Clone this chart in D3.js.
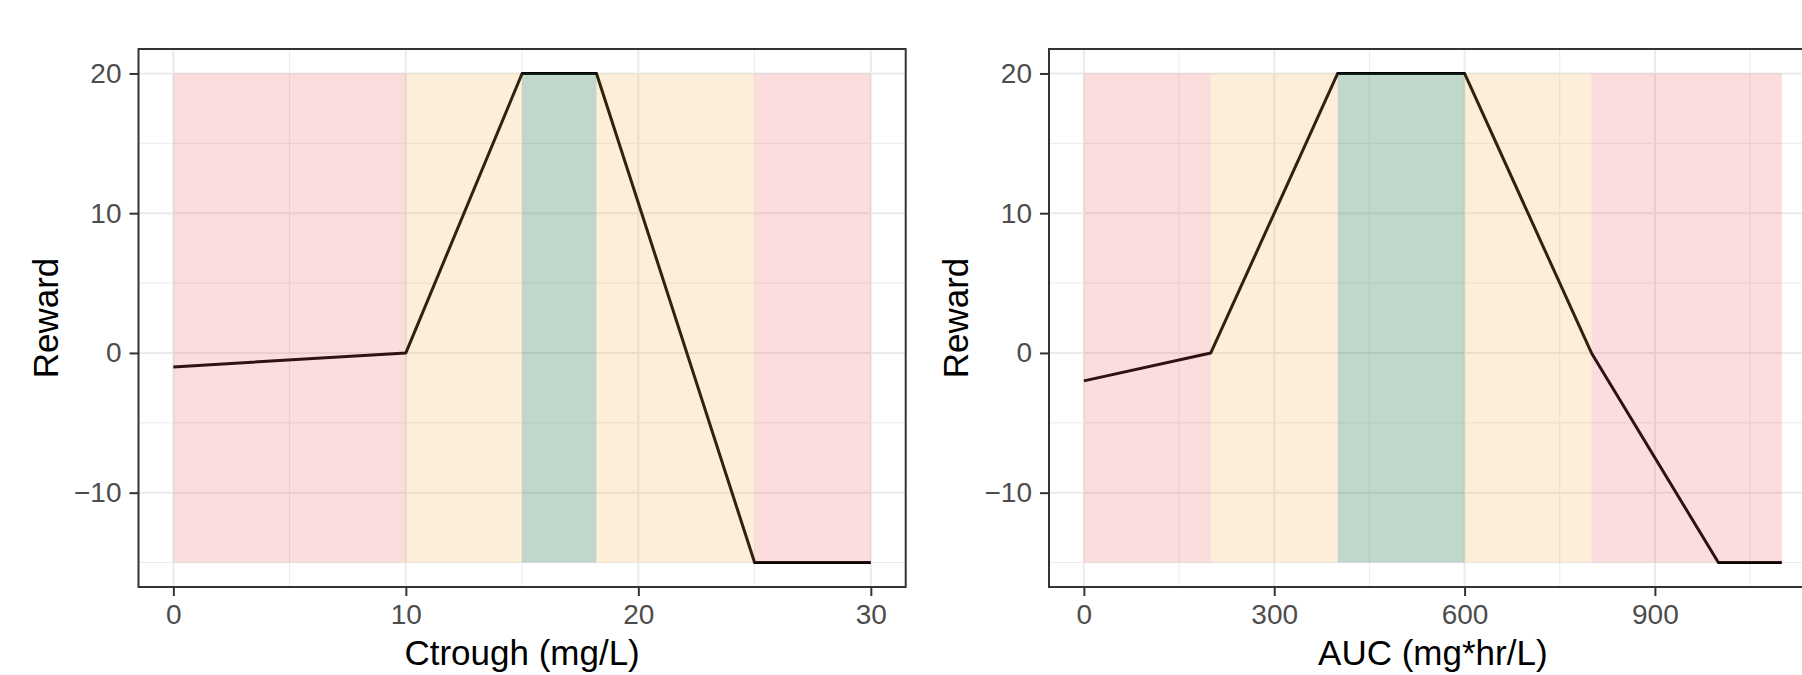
<!DOCTYPE html>
<html>
<head>
<meta charset="utf-8">
<script src="https://cdn.jsdelivr.net/npm/d3@7"></script>
<style>
  body { margin: 0; background: #fff; overflow: hidden; }
  svg { display: block; font-family: "Liberation Sans", Arial, Helvetica, sans-serif; }
</style>
</head>
<body>
<div id="chart"></div>
<script>
// reward curves
const ctroughX = [0, 10, 15, 18.2, 25, 30];
const ctroughReward = [-1, 0, 20, 20, -15, -15];
const aucX = [0, 200, 400, 600, 800, 1000, 1100];
const aucReward = [-2, 0, 20, 20, 0, -15, -15];

// shaded zones
const ctroughZoneStart = [0, 10, 15, 18.2, 25];
const ctroughZoneEnd = [10, 15, 18.2, 25, 30];
const aucZoneStart = [0, 200, 400, 600, 800];
const aucZoneEnd = [200, 400, 600, 800, 1100];
const zoneKind = ["bad", "ok", "good", "ok", "bad"];
const zoneLow = -15, zoneHigh = 20;

// ticks
const ctroughTicks = [0, 10, 20, 30];
const ctroughMinor = [5, 15, 25];
const aucTicks = [0, 300, 600, 900];
const aucMinor = [150, 450, 750, 1050];
const rewardTicks = [-10, 0, 10, 20];
const rewardMinor = [-15, -5, 5, 15];

const W = 1802, H = 675;
const panelTop = 49, panelBottom = 587;

const zoneFill = {bad: "rgb(240,85,85)", ok: "rgb(245,170,70)", good: "rgb(51,124,80)"};
const zoneAlpha = {bad: 0.2, ok: 0.2, good: 0.3};

const svg = d3.select("#chart").append("svg")
  .attr("width", W).attr("height", H);

function panel(opts) {
  const x = d3.scaleLinear()
    .domain(opts.domain)
    .range([opts.left, opts.right]);
  const y = d3.scaleLinear()
    .domain([-16.75, 21.75])
    .range([panelBottom, panelTop]);

  const g = svg.append("g");

  // minor grid
  g.selectAll(".vminor").data(opts.minor).enter().append("line")
    .attr("x1", d => x(d)).attr("x2", d => x(d))
    .attr("y1", panelTop).attr("y2", panelBottom)
    .attr("stroke", "#EBEBEB").attr("stroke-width", 1);
  g.selectAll(".hminor").data(rewardMinor).enter().append("line")
    .attr("x1", opts.left).attr("x2", opts.right)
    .attr("y1", d => y(d)).attr("y2", d => y(d))
    .attr("stroke", "#EBEBEB").attr("stroke-width", 1);
  // major grid
  g.selectAll(".vmajor").data(opts.ticks).enter().append("line")
    .attr("x1", d => x(d)).attr("x2", d => x(d))
    .attr("y1", panelTop).attr("y2", panelBottom)
    .attr("stroke", "#EBEBEB").attr("stroke-width", 2);
  g.selectAll(".hmajor").data(rewardTicks).enter().append("line")
    .attr("x1", opts.left).attr("x2", opts.right)
    .attr("y1", d => y(d)).attr("y2", d => y(d))
    .attr("stroke", "#EBEBEB").attr("stroke-width", 2);

  // the curve (drawn under the zones, like the original)
  const pts = opts.xs.map((v, i) => [v, opts.ys[i]]);
  g.append("path")
    .datum(pts)
    .attr("fill", "none")
    .attr("stroke", "#000")
    .attr("stroke-width", 3)
    .attr("stroke-linejoin", "round")
    .attr("d", d3.line().x(d => x(d[0])).y(d => y(d[1])));

  // zones
  g.selectAll(".zone").data(opts.starts).enter().append("rect")
    .attr("x", d => x(d))
    .attr("width", (d, i) => x(opts.ends[i]) - x(d))
    .attr("y", y(zoneHigh))
    .attr("height", y(zoneLow) - y(zoneHigh))
    .attr("fill", (d, i) => zoneFill[zoneKind[i]])
    .attr("fill-opacity", (d, i) => zoneAlpha[zoneKind[i]]);

  // border
  g.append("rect")
    .attr("x", opts.left).attr("y", panelTop)
    .attr("width", opts.right - opts.left).attr("height", panelBottom - panelTop)
    .attr("fill", "none").attr("stroke", "#333333").attr("stroke-width", 2);

  // axes
  const xAxis = g.append("g")
    .attr("transform", `translate(0,${panelBottom})`)
    .call(d3.axisBottom(x).tickValues(opts.ticks).tickSize(9).tickPadding(8).tickFormat(d3.format("d")));
  const yAxis = g.append("g")
    .attr("transform", `translate(${opts.left},0)`)
    .call(d3.axisLeft(y).tickValues(rewardTicks).tickSize(9).tickPadding(8)
      .tickFormat(d => d < 0 ? "\u2212" + Math.abs(d) : d));
  [xAxis, yAxis].forEach(a => {
    a.select(".domain").remove();
    a.selectAll(".tick line").attr("stroke", "#333333").attr("stroke-width", 2);
    a.selectAll(".tick text").attr("fill", "#4D4D4D")
      .style("font-size", "28px").style("font-family", "Liberation Sans, Arial, sans-serif");
  });

  // titles
  g.append("text")
    .attr("x", (opts.left + opts.right) / 2)
    .attr("y", 665)
    .attr("text-anchor", "middle")
    .style("font-size", "35px")
    .attr("fill", "#000")
    .text(opts.title);
  g.append("text")
    .attr("transform", `translate(${opts.left - 81},${(panelTop + panelBottom) / 2}) rotate(-90)`)
    .attr("text-anchor", "middle")
    .style("font-size", "35px")
    .attr("fill", "#000")
    .text("Reward");
}

panel({
  left: 138.5, right: 905.7, domain: [-1.5, 31.5],
  ticks: ctroughTicks, minor: ctroughMinor,
  xs: ctroughX, ys: ctroughReward,
  starts: ctroughZoneStart, ends: ctroughZoneEnd,
  title: "Ctrough (mg/L)"
});

panel({
  left: 1049, right: 1816.7, domain: [-55, 1155],
  ticks: aucTicks, minor: aucMinor,
  xs: aucX, ys: aucReward,
  starts: aucZoneStart, ends: aucZoneEnd,
  title: "AUC (mg*hr/L)"
});
</script>
</body>
</html>
